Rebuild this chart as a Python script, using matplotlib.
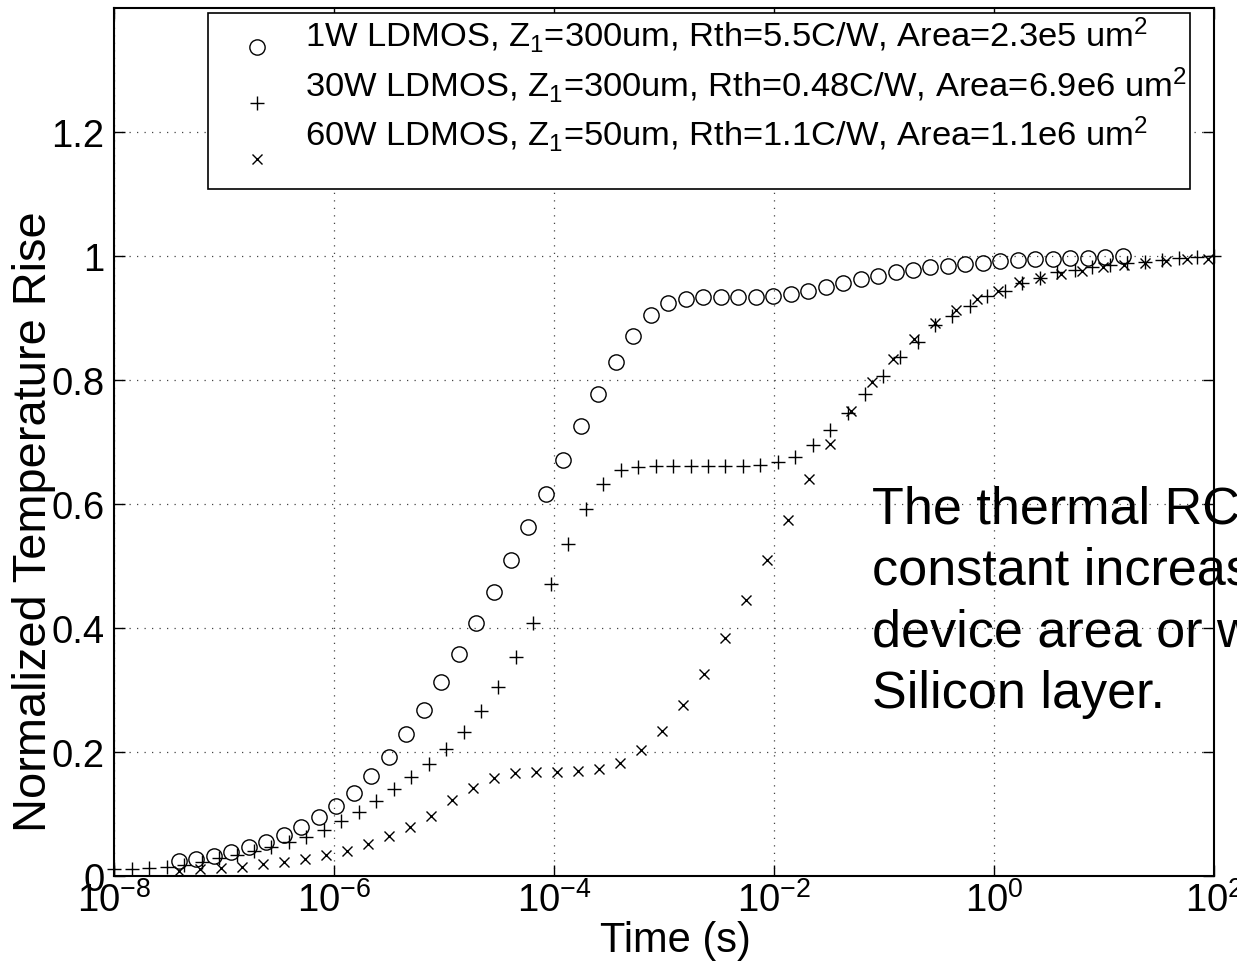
import numpy as np
import matplotlib
matplotlib.use("Agg")
import matplotlib.pyplot as plt
from matplotlib.patches import Rectangle
from matplotlib.ticker import FixedLocator, FuncFormatter, NullLocator

plt.rcParams['font.family'] = ['Liberation Sans', 'DejaVu Sans']
plt.rcParams['mathtext.fontset'] = 'custom'
plt.rcParams['mathtext.rm'] = 'Liberation Sans'
plt.rcParams['mathtext.it'] = 'Liberation Sans:italic'
plt.rcParams['mathtext.bf'] = 'Liberation Sans:bold'
plt.rcParams['mathtext.default'] = 'regular'

# ---- measured transient responses (log10 of time in s, normalized rise) ----
logt_1w = [-7.412, -7.253, -7.094, -6.935, -6.777, -6.618, -6.459, -6.300, -6.141, -5.982,
           -5.823, -5.664, -5.506, -5.347, -5.188, -5.029, -4.870, -4.711, -4.552, -4.393,
           -4.235, -4.076, -3.917, -3.758, -3.599, -3.440, -3.281, -3.123, -2.964, -2.805,
           -2.646, -2.487, -2.328, -2.169, -2.010, -1.852, -1.693, -1.534, -1.375, -1.216,
           -1.057, -0.898, -0.739, -0.581, -0.422, -0.263, -0.104, 0.055, 0.214, 0.373,
           0.532, 0.690, 0.849, 1.008, 1.167]
rise_1w = [0.023, 0.027, 0.032, 0.038, 0.046, 0.054, 0.065, 0.078, 0.094, 0.113,
           0.134, 0.161, 0.192, 0.228, 0.268, 0.312, 0.358, 0.408, 0.458, 0.510,
           0.563, 0.616, 0.670, 0.725, 0.777, 0.828, 0.871, 0.905, 0.923, 0.930,
           0.933, 0.934, 0.934, 0.934, 0.935, 0.938, 0.943, 0.949, 0.956, 0.962,
           0.968, 0.973, 0.977, 0.981, 0.984, 0.987, 0.989, 0.991, 0.993, 0.994,
           0.995, 0.996, 0.997, 0.998, 0.999]

logt_30w = [-8.000, -7.841, -7.683, -7.524, -7.365, -7.206, -7.048, -6.889, -6.730, -6.571,
            -6.413, -6.254, -6.095, -5.937, -5.778, -5.619, -5.460, -5.302, -5.143, -4.984,
            -4.825, -4.667, -4.508, -4.349, -4.190, -4.032, -3.873, -3.714, -3.556, -3.397,
            -3.238, -3.079, -2.921, -2.762, -2.603, -2.444, -2.286, -2.127, -1.968, -1.810,
            -1.651, -1.492, -1.333, -1.175, -1.016, -0.857, -0.698, -0.540, -0.381, -0.222,
            -0.063, 0.095, 0.254, 0.413, 0.571, 0.730, 0.889, 1.048, 1.206, 1.365,
            1.524, 1.683, 1.841, 2.000]
rise_30w = [0.010, 0.011, 0.012, 0.0135, 0.018, 0.0226, 0.028, 0.0334, 0.040, 0.046,
            0.054, 0.063, 0.074, 0.089, 0.103, 0.121, 0.140, 0.159, 0.180, 0.205,
            0.232, 0.265, 0.304, 0.352, 0.407, 0.4705, 0.5355, 0.591, 0.632, 0.654,
            0.660, 0.661, 0.661, 0.661, 0.661, 0.661, 0.661, 0.662, 0.668, 0.676,
            0.695, 0.719, 0.747, 0.777, 0.806, 0.836, 0.861, 0.888, 0.903, 0.919,
            0.9345, 0.9435, 0.956, 0.964, 0.973, 0.977, 0.981, 0.985, 0.988, 0.990,
            0.993, 0.996, 0.998, 1.000]

logt_60w = [-7.412, -7.221, -7.030, -6.839, -6.648, -6.458, -6.267, -6.076, -5.885, -5.694,
            -5.503, -5.312, -5.121, -4.930, -4.739, -4.549, -4.358, -4.167, -3.976, -3.785,
            -3.594, -3.403, -3.212, -3.021, -2.830, -2.639, -2.449, -2.258, -2.067, -1.876,
            -1.685, -1.494, -1.303, -1.112, -0.921, -0.730, -0.540, -0.349, -0.158, 0.033,
            0.224, 0.415, 0.606, 0.797, 0.988, 1.179, 1.370, 1.561, 1.751, 1.942]
rise_60w = [0.008, 0.0105, 0.012, 0.0135, 0.019, 0.0215, 0.027, 0.033, 0.040, 0.051,
            0.0645, 0.078, 0.097, 0.122, 0.141, 0.157, 0.166, 0.168, 0.168, 0.169,
            0.172, 0.182, 0.202, 0.233, 0.275, 0.326, 0.384, 0.445, 0.510, 0.574,
            0.640, 0.697, 0.750, 0.796, 0.833, 0.866, 0.892, 0.913, 0.930, 0.9435,
            0.957, 0.964, 0.970, 0.976, 0.981, 0.985, 0.989, 0.992, 0.994, 0.995]

series_labels = [
    "1W LDMOS, Z$_1$=300um, Rth=5.5C/W, Area=2.3e5 um$^2$",
    "30W LDMOS, Z$_1$=300um, Rth=0.48C/W, Area=6.9e6 um$^2$",
    "60W LDMOS, Z$_1$=50um, Rth=1.1C/W, Area=1.1e6 um$^2$",
]
note_lines = ["The thermal RC time", "constant increases with",
              "device area or with thick", "Silicon layer."]

x_tick_exps = [-8, -6, -4, -2, 0, 2]
y_ticks = [0, 0.2, 0.4, 0.6, 0.8, 1.0, 1.2]
y_tick_labels = ["0", "0.2", "0.4", "0.6", "0.8", "1", "1.2"]

# ---- figure ----
fig = plt.figure(figsize=(12.37, 9.70), dpi=100)
ax = fig.add_axes([0.0924, 0.0962, 0.8893, 0.8948])

styles = [
    dict(marker='o', ms=11, mfc='none', mec='k', mew=1.0),
    dict(marker='+', ms=9.5, mec='k', mew=1.0),
    dict(marker='x', ms=7, mec='k', mew=1.0),
]
data = [(logt_1w, rise_1w), (logt_30w, rise_30w), (logt_60w, rise_60w)]
for (lt, r), st in zip(data, styles):
    ax.plot(10.0 ** np.asarray(lt), r, linestyle='none', clip_on=False, zorder=3, **st)

ax.set_xscale('log')
ax.set_xlim(1e-8, 1e2)
ax.set_ylim(0, 1.4)

ax.xaxis.set_major_locator(FixedLocator([10.0 ** e for e in x_tick_exps]))
ax.xaxis.set_minor_locator(NullLocator())
ax.xaxis.set_major_formatter(FuncFormatter(lambda v, p: r'$10^{%d}$' % round(np.log10(v))))
ax.set_yticks(y_ticks)
ax.set_yticklabels(y_tick_labels)

ax.tick_params(axis='both', which='major', direction='in', length=8, width=1.0,
               top=True, right=True, labelsize=27.5, colors='k')
ax.tick_params(axis='x', pad=4)
ax.tick_params(axis='y', pad=7)

ax.grid(True, which='major', color='#444444', linestyle=(0, (1, 5)), linewidth=0.9)
ax.set_axisbelow(True)
for sp in ax.spines.values():
    sp.set_linewidth(1.5)
    sp.set_zorder(4)

ax.set_xlabel('Time (s)', fontsize=30)
ax.xaxis.set_label_coords(0.5097, -0.0505, transform=ax.transAxes)
ax.xaxis.label.set_verticalalignment('top')
ax.set_ylabel('Normalized Temperature Rise', fontsize=33.8)
ax.yaxis.set_label_coords(-0.0530, 0.4086)

# ---- legend box ----
box_l, box_r, box_b, box_t = 0.0852, 0.978, 0.791, 0.9939
ax.add_patch(Rectangle((box_l, box_b), box_r - box_l, box_t - box_b,
                       transform=ax.transAxes, facecolor='white', edgecolor='k',
                       linewidth=1.2, zorder=5, clip_on=False))
marker_y = [0.9547, 0.8902, 0.8257]
text_y = [0.9559, 0.8988, 0.8418]
for st, my, ty, lab in zip(styles, marker_y, text_y, series_labels):
    ax.plot([0.1297], [my], transform=ax.transAxes, linestyle='none',
            clip_on=False, zorder=6, **st)
    ax.text(0.1734, ty, lab, transform=ax.transAxes, fontsize=24.8,
            va='baseline', ha='left', zorder=6)

# ---- annotation ----
note_x = 10 ** -1.112
for i, line in enumerate(note_lines):
    ax.text(note_x, 0.570 - i * 0.0995, line, fontsize=37.5, va='baseline',
            ha='left', zorder=6, clip_on=False)

fig.savefig('out.png', dpi=100)
